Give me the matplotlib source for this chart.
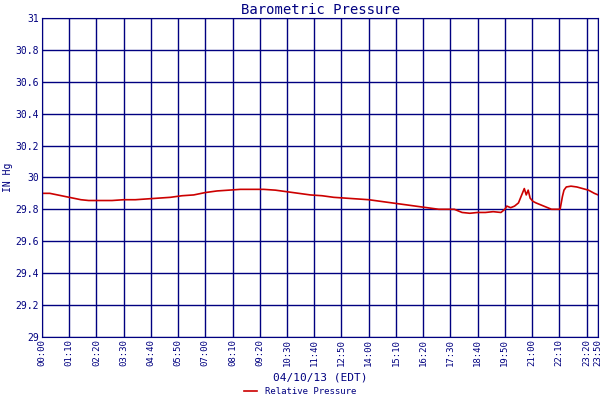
import matplotlib
matplotlib.use("Agg")
import matplotlib.pyplot as plt

# minutes since midnight, pressure in inHg
times = [0, 20, 40, 60, 80, 100, 120, 150, 180, 210, 240, 270, 300, 330, 360, 390, 420,
         450, 480, 510, 540, 570, 600, 630, 660, 690, 720, 750, 780, 810, 840, 870, 900,
         930, 960, 990, 1020, 1040, 1060, 1080, 1100, 1120, 1140, 1160, 1180, 1190, 1195,
         1205, 1215, 1225, 1235, 1240, 1245, 1250, 1255, 1262, 1270, 1290, 1310, 1325,
         1332, 1338, 1342, 1348, 1360, 1375, 1390, 1405, 1420, 1430]
pressure = [29.90, 29.90, 29.89, 29.88, 29.87, 29.86, 29.855, 29.855, 29.855, 29.86, 29.86, 29.865, 29.87, 29.875, 29.885, 29.89,
            29.905, 29.915, 29.92, 29.925, 29.925, 29.925, 29.92, 29.91, 29.90, 29.89, 29.885, 29.875, 29.87, 29.865, 29.86, 29.85, 29.84,
            29.83, 29.82, 29.81, 29.80, 29.80, 29.80, 29.78, 29.775, 29.78, 29.78, 29.785, 29.78, 29.80, 29.82,
            29.81, 29.82, 29.84, 29.90, 29.93, 29.89, 29.92, 29.87, 29.85, 29.84, 29.82, 29.80, 29.80,
            29.80, 29.88, 29.92, 29.94, 29.945, 29.94, 29.93, 29.92, 29.90, 29.89]

tick_pos = list(range(0, 1401, 70)) + [1430]
tick_labels = ["%02d:%02d" % (t // 60, t % 60) for t in tick_pos]
y_ticks = [29, 29.2, 29.4, 29.6, 29.8, 30, 30.2, 30.4, 30.6, 30.8, 31]
y_labels = ["29", "29.2", "29.4", "29.6", "29.8", "30", "30.2", "30.4", "30.6", "30.8", "31"]

navy = "#000080"
plt.rcParams["font.family"] = "DejaVu Sans Mono"

fig = plt.figure(figsize=(6, 4), dpi=100)
ax = fig.add_axes([0.07, 0.158, 0.927, 0.797])
ax.plot(times, pressure, color="#cc0000", linewidth=1.2, label="Relative Pressure")
ax.set_xlim(0, 1430)
ax.set_ylim(29, 31)
ax.set_xticks(tick_pos)
ax.set_xticklabels(tick_labels, rotation=90, fontsize=6.5, color=navy)
ax.set_yticks(y_ticks)
ax.set_yticklabels(y_labels, fontsize=7, color=navy)
ax.grid(True, color=navy, linewidth=1)
ax.tick_params(length=0, pad=2)
for s in ax.spines.values():
    s.set_color(navy)
ax.set_title("Barometric Pressure", fontsize=10, color=navy, pad=3)
ax.set_xlabel("04/10/13 (EDT)", fontsize=8, color=navy, labelpad=4)
ax.set_ylabel("IN Hg", fontsize=7, color=navy, labelpad=2)
fig.legend(loc="lower center", bbox_to_anchor=(0.5, -0.01), frameon=False,
           fontsize=6.5, labelcolor=navy, handlelength=1.5)
fig.savefig("out.png", dpi=100)
